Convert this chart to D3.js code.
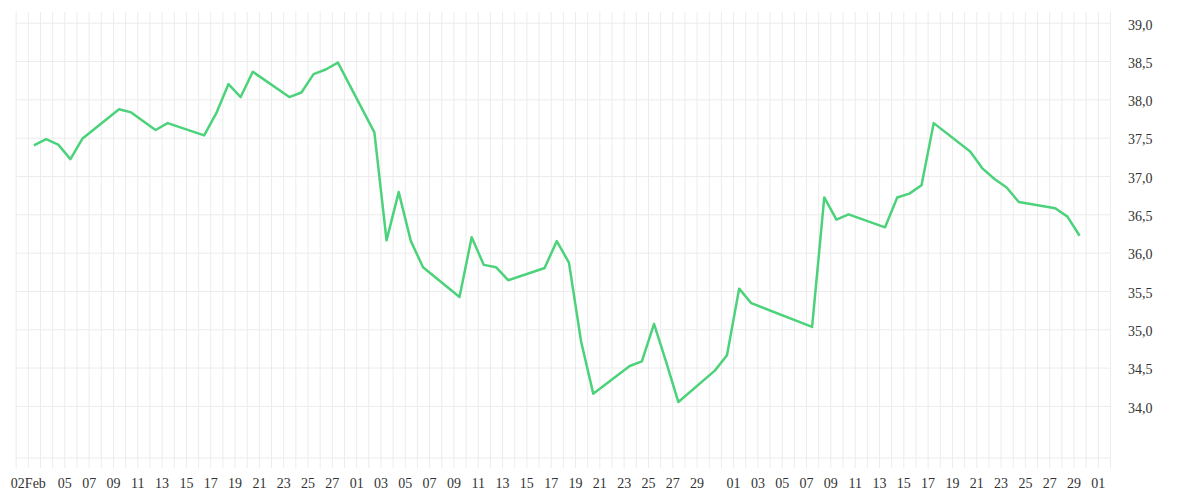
<!DOCTYPE html>
<html>
<head>
<meta charset="utf-8">
<script src="https://cdn.jsdelivr.net/npm/d3@7"></script>
<style>
  body { margin: 0; background: #fff; }
  svg text { font-family: "Liberation Serif", serif; fill: #333; }
</style>
</head>
<body>
<svg id="chart"></svg>
<script>
// trading days (2015) and closing values
const dates = [
  "2015-02-02","2015-02-03","2015-02-04","2015-02-05","2015-02-06",
  "2015-02-09","2015-02-10","2015-02-12","2015-02-13",
  "2015-02-16","2015-02-17","2015-02-18","2015-02-19","2015-02-20",
  "2015-02-23","2015-02-24","2015-02-25","2015-02-26","2015-02-27",
  "2015-03-02","2015-03-03","2015-03-04","2015-03-05","2015-03-06",
  "2015-03-09","2015-03-10","2015-03-11","2015-03-12","2015-03-13",
  "2015-03-16","2015-03-17","2015-03-18","2015-03-19","2015-03-20",
  "2015-03-23","2015-03-24","2015-03-25","2015-03-26","2015-03-27",
  "2015-03-30","2015-03-31","2015-04-01","2015-04-02",
  "2015-04-07","2015-04-08","2015-04-09","2015-04-10",
  "2015-04-13","2015-04-14","2015-04-15","2015-04-16","2015-04-17",
  "2015-04-20","2015-04-21","2015-04-22","2015-04-23","2015-04-24",
  "2015-04-27","2015-04-28","2015-04-29"
];
const values = [
  37.40, 37.48, 37.41, 37.22, 37.49,
  37.87, 37.83, 37.60, 37.69,
  37.53, 37.82, 38.20, 38.03, 38.36,
  38.03, 38.09, 38.33, 38.39, 38.48,
  37.57, 36.16, 36.79, 36.15, 35.81,
  35.42, 36.20, 35.84, 35.81, 35.64,
  35.80, 36.15, 35.87, 34.84, 34.16,
  34.52, 34.58, 35.07, 34.57, 34.05,
  34.46, 34.66, 35.53, 35.34,
  35.03, 36.72, 36.43, 36.50,
  36.33, 36.72, 36.77, 36.88, 37.69,
  37.32, 37.10, 36.96, 36.85, 36.66,
  36.58, 36.47, 36.22
];

const tickDates = [
  "2015-02-02","2015-02-05","2015-02-07","2015-02-09","2015-02-11","2015-02-13",
  "2015-02-15","2015-02-17","2015-02-19","2015-02-21","2015-02-23","2015-02-25",
  "2015-02-27","2015-03-01","2015-03-03","2015-03-05","2015-03-07","2015-03-09",
  "2015-03-11","2015-03-13","2015-03-15","2015-03-17","2015-03-19","2015-03-21",
  "2015-03-23","2015-03-25","2015-03-27","2015-03-29","2015-04-01","2015-04-03",
  "2015-04-05","2015-04-07","2015-04-09","2015-04-11","2015-04-13","2015-04-15",
  "2015-04-17","2015-04-19","2015-04-21","2015-04-23","2015-04-25","2015-04-27",
  "2015-04-29","2015-05-01"
];
const tickLabels = [
  "02Feb","05","07","09","11","13","15","17","19","21","23","25",
  "27","01","03","05","07","09","11","13","15","17","19","21",
  "23","25","27","29","01","03","05","07","09","11","13","15",
  "17","19","21","23","25","27","29","01"
];
const yTicks = [34.0, 34.5, 35.0, 35.5, 36.0, 36.5, 37.0, 37.5, 38.0, 38.5, 39.0];

const width = 1200, height = 500;
const plotLeft = 15.7, plotRight = 1110, plotTop = 12, plotBottom = 458;

const parse = d3.utcParse("%Y-%m-%d");
const data = dates.map((d, i) => ({ date: parse(d), value: values[i] }));

const svg = d3.select("#chart").attr("width", width).attr("height", height);

const x = d3.scaleUtc()
  .domain([parse("2015-02-01"), parse("2015-05-02")])
  .range([plotLeft, plotRight]);

const y = d3.scaleLinear()
  .domain([33.32, 39.14])
  .range([plotBottom, plotTop]);

// vertical grid, one line per day, running a bit below the plot like tick marks
svg.append("g")
  .attr("transform", `translate(0,${plotTop})`)
  .call(d3.axisBottom(x)
    .tickValues(d3.utcDay.range(x.domain()[0], d3.utcDay.offset(x.domain()[1], 1)))
    .tickSize(plotBottom - plotTop + 10)
    .tickFormat(""))
  .call(g => g.select(".domain").remove())
  .call(g => g.selectAll("line").attr("stroke", "#ececec").attr("stroke-width", 1));

// horizontal grid
svg.append("g")
  .attr("transform", `translate(${plotLeft},0)`)
  .call(d3.axisRight(y).tickValues(yTicks).tickSize(plotRight - plotLeft).tickFormat(""))
  .call(g => g.select(".domain").remove())
  .call(g => g.selectAll("line").attr("stroke", "#ececec").attr("stroke-width", 1));

// bottom edge
svg.append("line")
  .attr("x1", plotLeft).attr("x2", plotRight)
  .attr("y1", plotBottom).attr("y2", plotBottom)
  .attr("stroke", "#ececec");

// y labels on the right
svg.append("g")
  .attr("transform", `translate(${plotRight},0)`)
  .call(d3.axisRight(y).tickValues(yTicks).tickSize(0).tickPadding(18)
    .tickFormat(d => d3.format(".1f")(d).replace(".", ",")))
  .call(g => g.select(".domain").remove())
  .call(g => g.selectAll("text").attr("font-size", 14).attr("dy", "0.45em"));

// x labels
const labelOf = new Map(tickDates.map((d, i) => [d, tickLabels[i]]));
svg.append("g")
  .attr("transform", `translate(0,${plotBottom})`)
  .call(d3.axisBottom(x).tickValues(tickDates.map(parse)).tickSize(0).tickPadding(20)
    .tickFormat(d => labelOf.get(d3.utcFormat("%Y-%m-%d")(d))))
  .call(g => g.select(".domain").remove())
  .call(g => g.selectAll("text").attr("font-size", 14).attr("dy", "0.71em"));

// line, points sit at the middle of each day
const line = d3.line()
  .x(d => x(d3.utcHour.offset(d.date, 12)))
  .y(d => y(d.value));

svg.append("path")
  .datum(data)
  .attr("fill", "none")
  .attr("stroke", "#4cd27a")
  .attr("stroke-width", 2.5)
  .attr("stroke-linejoin", "round")
  .attr("d", line);
</script>
</body>
</html>
